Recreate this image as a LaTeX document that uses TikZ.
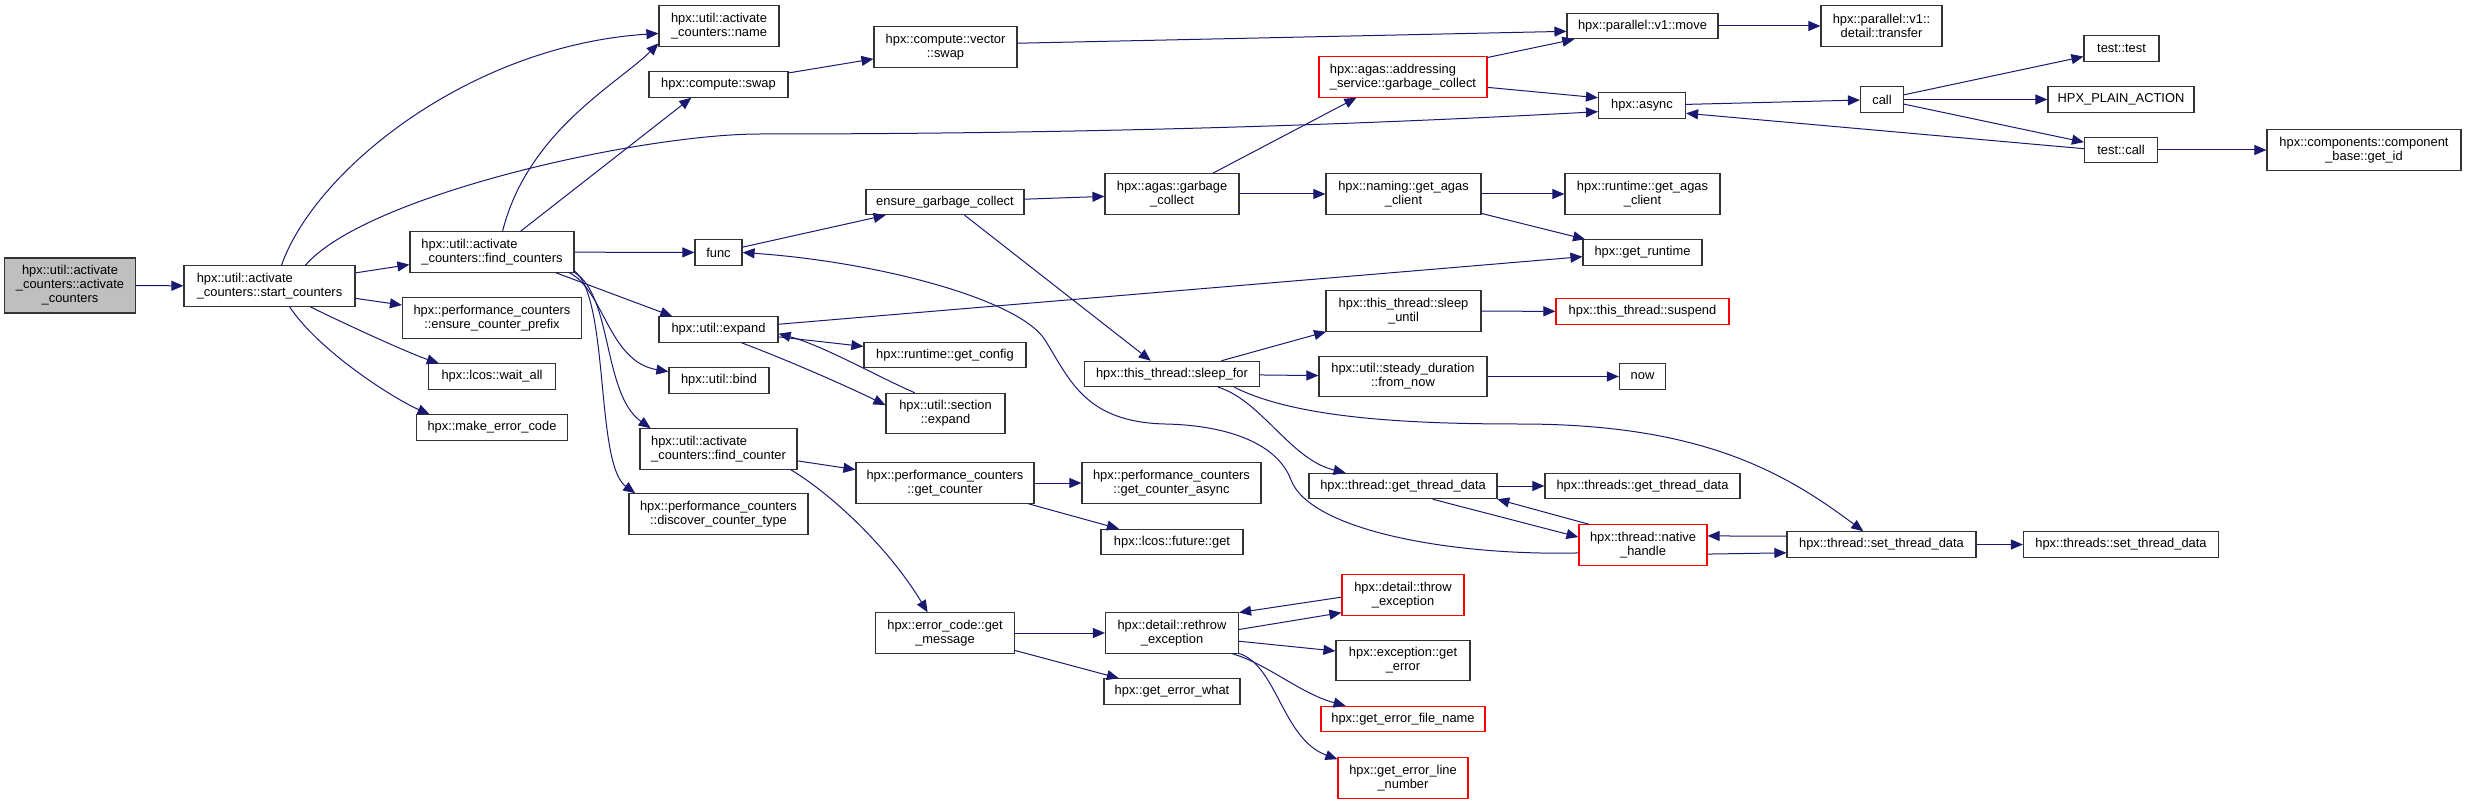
\documentclass[tikz,border=0pt]{standalone}
\usepackage{fontspec}
\setmainfont{Liberation Sans}
\usepackage{xcolor}
\usetikzlibrary{arrows.meta}
\definecolor{midnight}{HTML}{191970}
\definecolor{boxline}{HTML}{333333}
\definecolor{hilite}{HTML}{BFBFBF}

\begin{document}
\begin{tikzpicture}[x=0.3mm,y=-0.3mm,
  font=\fontsize{11}{12}\selectfont,
  fn/.style={draw=boxline,line width=0.35mm,fill=white,inner sep=0pt,
             align=center,minimum height=7.6mm},
  twoline/.style={minimum height=12.1mm},
  bw/.style={minimum width=#1*0.3mm},
  trunc/.style={draw=red},
  focus/.style={fill=hilite,minimum height=16.5mm},
  calls/.style={midnight,line width=0.3mm,-{Triangle[length=3.6mm,width=3mm]}}]
\useasboundingbox (0,0) rectangle (2467,804);
\node[fn,focus,bw=131] (root) at (70,285.5) {hpx::util::activate\\\_counters::activate\\\_counters};
\node[fn,twoline,bw=171,align=left] (start) at (269.5,286) {hpx::util::activate\\\_counters::start\_counters};
\node[fn,twoline,bw=164,align=left] (findcs) at (492,252) {hpx::util::activate\\\_counters::find\_counters};
\node[fn,twoline,bw=179] (prefix) at (492,318) {hpx::performance\_counters\\::ensure\_counter\_prefix};
\node[fn,bw=127] (waitall) at (492,376.5) {hpx::lcos::wait\_all};
\node[fn,bw=151] (mkerr) at (492,427.5) {hpx::make\_error\_code};
\node[fn,twoline,bw=120] (name) at (719,26) {hpx::util::activate\\\_counters::name};
\node[fn,bw=139] (cswap) at (718.5,84.5) {hpx::compute::swap};
\node[fn,bw=47] (func) at (718.5,252.5) {func};
\node[fn,bw=119] (expand) at (718.5,329.5) {hpx::util::expand};
\node[fn,bw=100] (bind) at (719,380.5) {hpx::util::bind};
\node[fn,twoline,bw=157,align=left] (findc) at (718.5,449) {hpx::util::activate\\\_counters::find\_counter};
\node[fn,twoline,bw=179] (discover) at (718.5,514) {hpx::performance\_counters\\::discover\_counter\_type};
\node[fn,twoline,bw=143] (vswap) at (945.5,47) {hpx::compute::vector\\::swap};
\node[fn,bw=158] (ensuregc) at (945,202) {ensure\_garbage\_collect};
\node[fn,bw=162] (getconfig) at (945,355) {hpx::runtime::get\_config};
\node[fn,twoline,bw=119] (sexpand) at (945.5,413.5) {hpx::util::section\\::expand};
\node[fn,twoline,bw=178] (getcounter) at (945,483) {hpx::performance\_counters\\::get\_counter};
\node[fn,twoline,bw=139] (getmsg) at (945,633) {hpx::error\_code::get\\\_message};
\node[fn,twoline,bw=134] (agasgc) at (1172,194) {hpx::agas::garbage\\\_collect};
\node[fn,bw=175] (sleepfor) at (1172,374) {hpx::this\_thread::sleep\_for};
\node[fn,twoline,bw=179] (cntasync) at (1171.5,483) {hpx::performance\_counters\\::get\_counter\_async};
\node[fn,bw=142] (futget) at (1172,542) {hpx::lcos::future::get};
\node[fn,twoline,bw=133] (rethrow) at (1172,633) {hpx::detail::rethrow\\\_exception};
\node[fn,bw=136] (errwhat) at (1172,691.5) {hpx::get\_error\_what};
\node[fn,trunc,twoline,bw=168,align=left] (addrgc) at (1403,77) {hpx::agas::addressing\\\_service::garbage\_collect};
\node[fn,twoline,bw=155] (naming) at (1403.5,194) {hpx::naming::get\_agas\\\_client};
\node[fn,twoline,bw=155] (sleepuntil) at (1403.5,311) {hpx::this\_thread::sleep\\\_until};
\node[fn,twoline,bw=168] (fromnow) at (1403,376.5) {hpx::util::steady\_duration\\::from\_now};
\node[fn,bw=188] (getdata) at (1403,486) {hpx::thread::get\_thread\_data};
\node[fn,trunc,twoline,bw=122] (throwex) at (1403,595) {hpx::detail::throw\\\_exception};
\node[fn,twoline,bw=134] (geterror) at (1403,660.5) {hpx::exception::get\\\_error};
\node[fn,trunc,bw=164] (filename) at (1403,719) {hpx::get\_error\_file\_name};
\node[fn,trunc,twoline,bw=130] (lineno) at (1403,778) {hpx::get\_error\_line\\\_number};
\node[fn,bw=151] (move) at (1642.5,26) {hpx::parallel::v1::move};
\node[fn,bw=87] (async) at (1642,105.5) {hpx::async};
\node[fn,twoline,bw=155] (rtagas) at (1642.5,194) {hpx::runtime::get\_agas\\\_client};
\node[fn,bw=119] (runtime) at (1642.5,252.5) {hpx::get\_runtime};
\node[fn,trunc,bw=173] (suspend) at (1642.5,311.5) {hpx::this\_thread::suspend};
\node[fn,bw=46] (now) at (1642.5,376.5) {now};
\node[fn,bw=195] (tgetdata) at (1642.5,486) {hpx::threads::get\_thread\_data};
\node[fn,trunc,twoline,bw=128] (native) at (1643,545) {hpx::thread::native\\\_handle};
\node[fn,twoline,bw=121] (transfer) at (1881.5,26) {hpx::parallel::v1::\\detail::transfer};
\node[fn,bw=43] (call) at (1882,99.5) {call};
\node[fn,bw=189] (setdata) at (1881.5,544.5) {hpx::thread::set\_thread\_data};
\node[fn,bw=75] (testtest) at (2121.5,48.5) {test::test};
\node[fn,bw=146] (plain) at (2121,99.5) {HPX\_PLAIN\_ACTION};
\node[fn,bw=73] (testcall) at (2121,150) {test::call};
\node[fn,bw=195] (tsetdata) at (2121,544.5) {hpx::threads::set\_thread\_data};
\node[fn,twoline,bw=194] (getid) at (2364,150) {hpx::components::component\\\_base::get\_id};
\draw[calls] (root) -- (start);
\draw[calls] (start.60) .. controls +(34,-96) and +(-188,12) .. (name.187);
\draw[calls] (start.30) .. controls +(60,-70) and +(-120,0) .. (760,134)
  .. controls +(400,0) and +(-150,8) .. (async.188);
\draw[calls] (start) -- (findcs);
\draw[calls] (start) -- (prefix);
\draw[calls] (start.-27) .. controls +(30,15) and +(-30,-10) .. (waitall.166);
\draw[calls] (start.-46) .. controls +(30,45) and +(-35,-15) .. (mkerr.168);
\draw[calls] (findcs.63) .. controls +(25,-100) and +(-40,40) .. (name.196);
\draw[calls] (findcs.36) -- (cswap.206);
\draw[calls] (findcs) -- (func);
\draw[calls] (findcs.-18) -- (expand.164);
\draw[calls] (findcs.-15) .. controls +(35,18) and +(-60,-10) .. (bind.170);
\draw[calls] (findcs.-14) .. controls +(38,23) and +(-48,-34) .. (findc.163);
\draw[calls] (findcs.-13) .. controls +(35,28) and +(-40,-29) .. (discover.166);
\draw[calls] (cswap) -- (vswap);
\draw[calls] (vswap.3) -- (move.184);
\draw[calls] (func) -- (ensuregc);
\draw[calls] (ensuregc) -- (agasgc);
\draw[calls] (ensuregc.-34) -- (sleepfor.148);
\draw[calls] (agasgc.27) -- (addrgc.204);
\draw[calls] (agasgc) -- (naming);
\draw[calls] (addrgc.13) -- (move.191);
\draw[calls] (addrgc.-7) -- (async.170);
\draw[calls] (move) -- (transfer);
\draw[calls] (async) -- (call);
\draw[calls] (call) -- (testtest);
\draw[calls] (call) -- (plain);
\draw[calls] (call) -- (testcall);
\draw[calls] (testcall.178) -- (async.-10);
\draw[calls] (testcall) -- (getid);
\draw[calls] (naming) -- (rtagas);
\draw[calls] (naming.-14) -- (runtime.167);
\draw[calls] (expand.5) -- (runtime.184);
\draw[calls] (expand.-7) -- (getconfig.174);
\draw[calls] (sexpand.146) .. controls +(-35,-15) and +(45,12) .. (expand.-4);
\draw[calls] (expand.-30) .. controls +(40,15) and +(-45,-22) .. (sexpand.172);
\draw[calls] (sleepfor.15) -- (sleepuntil.195);
\draw[calls] (sleepuntil) -- (suspend);
\draw[calls] (sleepfor) -- (fromnow);
\draw[calls] (fromnow) -- (now);
\draw[calls] (sleepfor.-16) .. controls +(43,13) and +(-55,-13) .. (getdata.167);
\draw[calls] (sleepfor.-12) .. controls +(60,30) and +(-120,0) .. (1520,424)
  .. controls +(180,0) and +(-80,-60) .. (setdata.144);
\draw[calls] (native.187) .. controls (1450,556) and (1310,530) .. (1291,480)
  .. controls (1276,440) and (1220,425) .. (1165,424)
  .. controls (1085,422) and (1070,380) .. (1045,340)
  .. controls (1020,300) and (880,262) .. (func.east);
\draw[calls] (getdata) -- (tgetdata);
\draw[calls] (getdata.-24) -- (native.173);
\draw[calls] (native.159) -- (getdata.-8);
\draw[calls] (setdata.175) -- (native.8);
\draw[calls] (native.-8) -- (setdata.185);
\draw[calls] (setdata) -- (tsetdata);
\draw[calls] (findc) -- (getcounter);
\draw[calls] (findc.-16) .. controls +(43,26) and +(-38,-63) .. (getmsg.130);
\draw[calls] (getcounter) -- (cntasync);
\draw[calls] (getcounter.-14) -- (futget.166);
\draw[calls] (getmsg) -- (rethrow);
\draw[calls] (getmsg.-14) -- (errwhat.166);
\draw[calls] (throwex.182) -- (rethrow.17);
\draw[calls] (rethrow.3) -- (throwex.196);
\draw[calls] (rethrow.-7) -- (geterror.172);
\draw[calls] (rethrow.-19) .. controls +(35,10) and +(-45,-12) .. (filename.167);
\draw[calls] (rethrow.-17) .. controls +(38,12) and +(-55,-20) .. (lineno.164);
\end{tikzpicture}
\end{document}
